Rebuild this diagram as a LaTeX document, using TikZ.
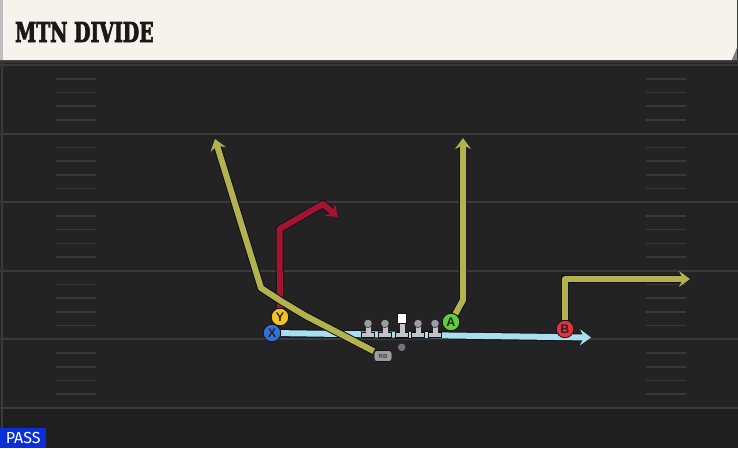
\documentclass[tikz,border=0pt]{standalone}
\usepackage{fontspec}
\usetikzlibrary{arrows.meta}
\newfontfamily\titlefont{DejaVu Serif}[BoldFeatures={FakeBold=3.5}]
\newfontfamily\playerfont{Liberation Sans}
\newfontfamily\tagfont{Fira Sans}
\definecolor{fieldbg}{HTML}{232323}
\definecolor{fieldlow}{HTML}{1F1F1F}
\definecolor{yardgray}{HTML}{3A3A3A}
\definecolor{hashgray}{HTML}{383838}
\definecolor{headcream}{HTML}{F5F3EC}
\definecolor{routeolive}{HTML}{B4B24E}
\definecolor{routered}{HTML}{A3152F}
\definecolor{routeblue}{HTML}{A8E0EE}
\definecolor{routeedge}{HTML}{10121C}
\definecolor{xblue}{HTML}{3570D6}
\definecolor{yyellow}{HTML}{F4C320}
\definecolor{agreen}{HTML}{62CC3C}
\definecolor{bred}{HTML}{E2333F}
\definecolor{passblue}{HTML}{0A2ED8}
\definecolor{linegray}{HTML}{C4C4C4}
\definecolor{headgray}{HTML}{9C9C9C}
\pgfdeclarelayer{field}
\pgfdeclarelayer{routes}
\pgfsetlayers{field,routes,main}
\begin{document}
\begin{tikzpicture}[x=1pt, y=-1pt, line width=0.5pt,
	route/.style={line width=6pt, line join=round, -{Stealth[length=11pt,width=16pt,inset=4pt]}, preaction={draw=routeedge, line width=8pt}},
	player/.style={circle, draw=routeedge, line width=0.8pt, minimum size=17.5pt, inner sep=0pt, text=black!85, font=\playerfont\bfseries\fontsize{12.5}{12.5}\selectfont},
	rbbox/.style={rectangle, rounded corners=3pt, fill=headgray, draw=routeedge, line width=0.6pt, minimum width=18pt, minimum height=11pt, inner sep=0pt, text=black!75, font=\playerfont\bfseries\fontsize{6}{6}\selectfont},
	yard/.style={draw=yardgray, line width=2pt},
	hash/.style={draw=hashgray, line width=1.6pt}]
		\useasboundingbox (0,0) rectangle (738,448);
		\begin{pgfonlayer}{field}
		\fill[fieldbg] (0,0) rectangle (738,448);
		\fill[fieldlow] (0,409) rectangle (738,448);
		\draw[draw=yardgray, line width=2pt] (1.5,60) -- (1.5,448);
		\foreach \k in {0,...,5}
			\draw[yard] (0,{65+68.6*\k}) -- (738,{65+68.6*\k});
		\foreach \k in {1,2,3,4,6,7,8,9,11,12,13,14,16,17,18,19,21,22,23,24}{
			\draw[hash] (56,{65+13.72*\k}) -- (96,{65+13.72*\k});
			\draw[hash] (646,{65+13.72*\k}) -- (686,{65+13.72*\k});
		}
		\fill[black!80] (0,59) rectangle (738,62.5);
		\fill[headcream] (0,0) -- (737,0) -- (737,48) -- (732,60) -- (0,60) -- cycle;
		\fill[gray] (732,60) -- (737,48) -- (737,60) -- cycle;
		\fill[black!25] (0,0) rectangle (3,60);
		\end{pgfonlayer}
		\node[anchor=base west, inner sep=0pt, text=black!90] (title) at (15,42) {\scalebox{0.69}[1]{\titlefont\bfseries\fontsize{27.4}{27.4}\selectfont MTN DIVIDE}};

		\node[player, fill=xblue](xrec) at (272,333){X};
		\node[player, fill=yyellow](yrec) at (280,317){Y};
		\node[player, fill=agreen](arec) at (451,322){A};
		\node[player, fill=bred](brec) at (565,329){B};
		\node[rbbox](rb) at (383,356){RB};
		\node[circle, fill=black!55, draw=routeedge, line width=0.5pt, minimum size=8.6pt, inner sep=0pt](qb) at (401.7,347.3){};

		\coordinate (xgo) at (591,337.5);
		\coordinate (ygo) at (338,217);
		\coordinate (rbgo) at (215,139);
		\coordinate (ago) at (463,138);
		\coordinate (bgo) at (690,279);

		\begin{pgfonlayer}{routes}
		\draw [route, draw=routeblue] (xrec) -- (xgo);
		\draw [route, draw=routered] (yrec) -- (279.5,229) -- (323,204) -- (ygo);
		\draw [route, draw=routeolive] (rb) -- (306,316) -- (281,301) -- (261,288) -- (rbgo);
		\draw [route, draw=routeolive] (arec) -- (463,300) -- (ago);
		\draw [route, draw=routeolive] (brec) -- (565,279) -- (bgo);
		\end{pgfonlayer}

		\foreach \lx in {368,385,402,418,435}{
			\fill[linegray, draw=routeedge, line width=0.4pt] ({\lx-6.5},332.5) rectangle ({\lx+6.5},337.5);
			\fill[linegray] ({\lx-2.5},323) rectangle ({\lx+2.5},332.8);
		}
		\foreach \lx in {368,385,418,435}
			\fill[headgray, draw=routeedge, line width=0.4pt] (\lx,323.5) circle (4.2);
		\fill[white, draw=routeedge, line width=0.4pt] (397.3,313.5) rectangle (406.2,323);

		\node[anchor=south west, fill=passblue, text=white, minimum width=46pt, minimum height=20pt, inner sep=0pt, font=\tagfont\fontsize{16}{16}\selectfont](pass) at (0,448){PASS};
	\end{tikzpicture}
\end{document}
